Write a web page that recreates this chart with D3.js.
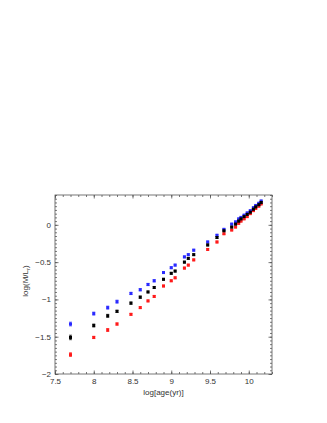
<!DOCTYPE html>
<html>
<head>
<meta charset="utf-8">
<script src="https://cdn.jsdelivr.net/npm/d3@7"></script>
<style>
body { margin: 0; background: #fff; }
text { font-family: "Liberation Sans", Arial, sans-serif; }
</style>
</head>
<body>
<div id="chart"></div>
<script>
// data
let logAge = [7.7, 8.0, 8.18, 8.3, 8.48, 8.6, 8.7, 8.78, 8.9, 9.0, 9.05, 9.17, 9.22, 9.29,
    9.47, 9.59, 9.68, 9.78, 9.83, 9.87, 9.9, 9.94, 9.98, 10.02, 10.06, 10.09, 10.13, 10.16];

let blueML = [-1.33, -1.19, -1.11, -1.03, -0.92, -0.87, -0.80, -0.75, -0.64, -0.575, -0.54, -0.43, -0.40, -0.34,
    -0.23, -0.14, -0.06, 0.01, 0.04, 0.08, 0.10, 0.13, 0.16, 0.19, 0.23, 0.26, 0.29, 0.32];
let blackML = [-1.51, -1.35, -1.22, -1.16, -1.05, -0.97, -0.90, -0.84, -0.73, -0.65, -0.62, -0.50, -0.45, -0.40,
    -0.27, -0.17, -0.08, -0.03, 0.01, 0.05, 0.08, 0.11, 0.14, 0.17, 0.21, 0.24, 0.27, 0.30];
let redML = [-1.74, -1.51, -1.41, -1.33, -1.20, -1.11, -1.02, -0.96, -0.82, -0.75, -0.71, -0.58, -0.54, -0.47,
    -0.33, -0.23, -0.12, -0.07, -0.03, 0.02, 0.05, 0.08, 0.11, 0.15, 0.19, 0.22, 0.25, 0.28];

// error bar half sizes (dex)
let blueErr = [0.025, 0.02, 0.02, 0.02, 0.015, 0.015, 0.015, 0.015, 0.012, 0.012, 0.012, 0.012, 0.012, 0.012,
    0.012, 0.012, 0.01, 0.01, 0.01, 0.01, 0.01, 0.01, 0.01, 0.01, 0.01, 0.01, 0.01, 0.01];
let blackErr = [0.03, 0.02, 0.02, 0.015, 0.015, 0.015, 0.012, 0.012, 0.012, 0.012, 0.012, 0.012, 0.012, 0.012,
    0.012, 0.012, 0.01, 0.01, 0.01, 0.01, 0.01, 0.01, 0.01, 0.01, 0.01, 0.01, 0.01, 0.01];
let redErr = [0.025, 0.015, 0.02, 0.015, 0.012, 0.012, 0.012, 0.012, 0.012, 0.012, 0.012, 0.012, 0.012, 0.012,
    0.012, 0.012, 0.01, 0.01, 0.01, 0.01, 0.01, 0.01, 0.01, 0.01, 0.01, 0.01, 0.01, 0.01];

let xTicks = [7.5, 8, 8.5, 9, 9.5, 10];
let yTicks = [-2, -1.5, -1, -0.5, 0];

let svgWidth = 327;
let svgHeight = 423;

let frame = { left: 55, right: 272, top: 195, bottom: 374 };

let svg = d3.select('#chart')
    .append('svg')
    .attr('width', svgWidth)
    .attr('height', svgHeight);

svg.append('rect')
    .attr('width', svgWidth)
    .attr('height', svgHeight)
    .attr('fill', '#fff');

let xScale = d3.scaleLinear()
    .domain([7.5, 10.3])
    .range([frame.left, frame.right]);
let yScale = d3.scaleLinear()
    .domain([-2, 0.4])
    .range([frame.bottom, frame.top]);

let xMinor = d3.range(75, 104).map(d => d / 10);
let yMinor = d3.range(-40, 9).map(d => d / 20);

// axes on all four sides, ticks pointing in
function styleAxis(g) {
    g.select('.domain').remove();
    g.selectAll('line').attr('stroke', '#555').attr('stroke-width', 0.8);
    g.selectAll('text')
        .attr('fill', '#333')
        .style('font-size', '8px');
}

svg.append('g')
    .attr('transform', `translate(0, ${frame.bottom})`)
    .call(d3.axisBottom(xScale).tickValues(xMinor).tickSize(-2).tickFormat(''))
    .call(styleAxis);
svg.append('g')
    .attr('transform', `translate(0, ${frame.bottom})`)
    .call(d3.axisBottom(xScale).tickValues(xTicks).tickSize(-3.5).tickPadding(4).tickFormat(d3.format('')))
    .call(styleAxis);
svg.append('g')
    .attr('transform', `translate(0, ${frame.top})`)
    .call(d3.axisTop(xScale).tickValues(xMinor).tickSize(-2).tickFormat(''))
    .call(styleAxis);
svg.append('g')
    .attr('transform', `translate(0, ${frame.top})`)
    .call(d3.axisTop(xScale).tickValues(xTicks).tickSize(-3.5).tickFormat(''))
    .call(styleAxis);

svg.append('g')
    .attr('transform', `translate(${frame.left}, 0)`)
    .call(d3.axisLeft(yScale).tickValues(yMinor).tickSize(-2).tickFormat(''))
    .call(styleAxis);
svg.append('g')
    .attr('transform', `translate(${frame.left}, 0)`)
    .call(d3.axisLeft(yScale).tickValues(yTicks).tickSize(-3.5).tickPadding(4).tickFormat(d3.format('')))
    .call(styleAxis);
svg.append('g')
    .attr('transform', `translate(${frame.right}, 0)`)
    .call(d3.axisRight(yScale).tickValues(yMinor).tickSize(-2).tickFormat(''))
    .call(styleAxis);
svg.append('g')
    .attr('transform', `translate(${frame.right}, 0)`)
    .call(d3.axisRight(yScale).tickValues(yTicks).tickSize(-3.5).tickFormat(''))
    .call(styleAxis);

// frame
svg.append('rect')
    .attr('x', frame.left)
    .attr('y', frame.top)
    .attr('width', frame.right - frame.left)
    .attr('height', frame.bottom - frame.top)
    .attr('fill', 'none')
    .attr('stroke', '#555')
    .attr('stroke-width', 0.8);

// points with error bars
let series = [
    { values: redML, errs: redErr, color: '#ff1a1a' },
    { values: blueML, errs: blueErr, color: '#2a2aff' },
    { values: blackML, errs: blackErr, color: '#000000' }
];

series.forEach(function(s) {
    let pts = logAge.map((a, i) => ({ x: a, y: s.values[i], e: s.errs[i] }));
    let g = svg.append('g');
    let marks = g.selectAll('g')
        .data(pts)
        .enter()
        .append('g');
    marks.append('line')
        .attr('x1', d => xScale(d.x))
        .attr('x2', d => xScale(d.x))
        .attr('y1', d => yScale(d.y - d.e))
        .attr('y2', d => yScale(d.y + d.e))
        .attr('stroke', s.color)
        .attr('stroke-width', 0.7);
    // caps
    [-1, 1].forEach(function(sign) {
        marks.append('line')
            .attr('x1', d => xScale(d.x) - 1.5)
            .attr('x2', d => xScale(d.x) + 1.5)
            .attr('y1', d => yScale(d.y + sign * d.e))
            .attr('y2', d => yScale(d.y + sign * d.e))
            .attr('stroke', s.color)
            .attr('stroke-width', 0.7);
    });
    marks.append('rect')
        .attr('x', d => xScale(d.x) - 1.5)
        .attr('y', d => yScale(d.y) - 1.5)
        .attr('width', 3)
        .attr('height', 3)
        .attr('fill', s.color);
});

// axis labels
svg.append('text')
    .attr('x', (frame.left + frame.right) / 2)
    .attr('y', 395)
    .attr('text-anchor', 'middle')
    .attr('fill', '#333')
    .style('font-size', '8px')
    .text('log[age(yr)]');

let yLabel = svg.append('text')
    .attr('transform', 'translate(28, 281) rotate(-90)')
    .attr('text-anchor', 'middle')
    .attr('fill', '#333')
    .style('font-size', '8px');
yLabel.append('tspan').text('log(M/L');
yLabel.append('tspan').attr('dy', 2).style('font-size', '6px').text('r');
yLabel.append('tspan').attr('dy', -2).text(')');
</script>
</body>
</html>
